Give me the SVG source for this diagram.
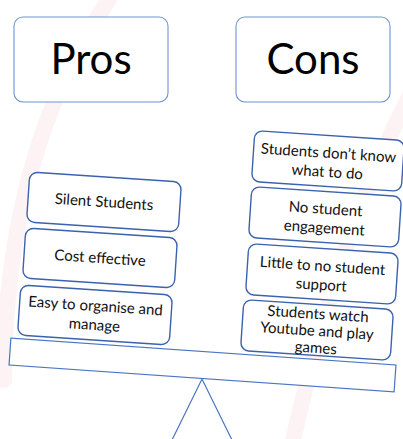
<svg xmlns="http://www.w3.org/2000/svg" width="403" height="439" viewBox="0 0 403 439">
<style>
.head{fill:#ffffff;stroke:#6f93d4;stroke-width:1.1}
.card{fill:#ffffff;stroke:#3a62ad;stroke-width:1.4}
.bar{fill:#ffffff;stroke:#4a74c4;stroke-width:1.2}
.line{fill:none;stroke:#4a74c4;stroke-width:1.2}
.big{font-family:Lato,"Liberation Sans",sans-serif;font-size:42px;fill:#000000;text-anchor:middle}
.t{font-family:Lato,"Liberation Sans",sans-serif;font-size:15px;fill:#111111;text-anchor:middle}
.wm{fill:none;stroke:#fdf3f4;stroke-width:16;stroke-linecap:round}
</style>
<rect width="403" height="439" fill="#ffffff"/>
<g id="watermark">
<path class="wm" d="M 112 -5 Q 5 150 4 380"/>
<path class="wm" d="M 410 95 Q 340 230 292 445"/>
</g>
<g id="pros">
<rect class="head" x="14" y="17" width="154" height="85" rx="9"/>
<text class="big" x="91" y="74">Pros</text>
</g>
<g id="cons">
<rect class="head" x="236" y="17" width="154" height="85" rx="9"/>
<text class="big" x="313" y="74">Cons</text>
</g>
<g id="fulcrum">
<path class="line" d="M 172 440 L 202 379 L 232 440"/>
</g>
<g id="beam" transform="translate(202.5 365) rotate(4)">
<rect class="bar" x="-193" y="-13.5" width="386" height="27"/>
</g>
<g id="pro-silent" transform="translate(104 202) rotate(3.8)">
<rect class="card" x="-76" y="-25" width="152" height="50" rx="8"/>
<text class="t" x="0" y="5">Silent Students</text>
</g>
<g id="pro-cost" transform="translate(100 258) rotate(3.8)">
<rect class="card" x="-76" y="-25" width="152" height="50" rx="8"/>
<text class="t" x="0" y="5">Cost effective</text>
</g>
<g id="pro-easy" transform="translate(95 315) rotate(3.8)">
<rect class="card" x="-76" y="-25" width="152" height="50" rx="8"/>
<text class="t" x="0" y="-4">Easy to organise and</text>
<text class="t" x="0" y="15">manage</text>
</g>
<g id="con-know" transform="translate(328 161) rotate(3.8)">
<rect class="card" x="-75" y="-25.5" width="150" height="51" rx="8"/>
<text class="t" x="0" y="-3">Students don’t know</text>
<text class="t" x="0" y="16">what to do</text>
</g>
<g id="con-engage" transform="translate(325 217) rotate(3.8)">
<rect class="card" x="-75" y="-25.5" width="150" height="51" rx="8"/>
<text class="t" x="0" y="-3">No student</text>
<text class="t" x="0" y="16">engagement</text>
</g>
<g id="con-support" transform="translate(322 274) rotate(3.8)">
<rect class="card" x="-75" y="-25.5" width="150" height="51" rx="8"/>
<text class="t" x="0" y="-3">Little to no student</text>
<text class="t" x="0" y="16">support</text>
</g>
<g id="con-youtube" transform="translate(317 330) rotate(3.8)">
<rect class="card" x="-75" y="-25.5" width="150" height="51" rx="8"/>
<text class="t" x="0" y="-11">Students watch</text>
<text class="t" x="0" y="6">Youtube and play</text>
<text class="t" x="0" y="23">games</text>
</g>
<g id="connectors"/>
</svg>
